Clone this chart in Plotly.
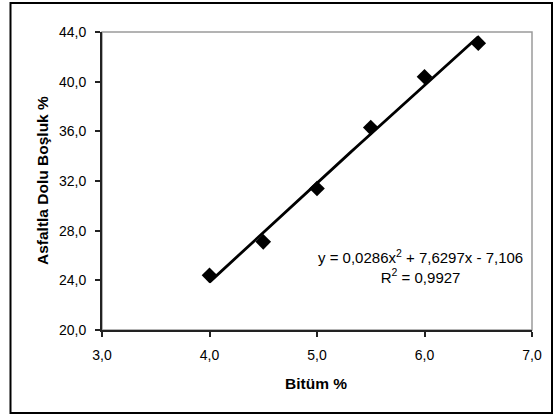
import numpy as np
import plotly.graph_objects as go

# Data
bitum = [4.0, 4.5, 5.0, 5.5, 6.0, 6.5]
dolu_bosluk = [24.4, 27.1, 31.4, 36.3, 40.4, 43.1]
x_ticks = [3.0, 4.0, 5.0, 6.0, 7.0]
y_ticks = [20.0, 24.0, 28.0, 32.0, 36.0, 40.0, 44.0]
equation_text = "y = 0,0286x<sup>2</sup> + 7,6297x - 7,106<br>R<sup>2</sup> = 0,9927"
x_title = "Bitüm %"
y_title = "Asfaltla Dolu Boşluk %"

# Polynomial (order 2) trendline fitted to the data, as in the spreadsheet
coef = np.polyfit(bitum, dolu_bosluk, 2)
trend_x = np.linspace(min(bitum), max(bitum), 60)
trend_y = np.polyval(coef, trend_x)

FONT = "Arial, Liberation Sans, sans-serif"
TICK_SIZE = 14
TITLE_SIZE = 15.5
EQ_SIZE = 15

fig = go.Figure()
fig.add_trace(go.Scatter(x=trend_x, y=trend_y, mode="lines",
                         line=dict(color="black", width=2.8),
                         hoverinfo="skip", showlegend=False))
fig.add_trace(go.Scatter(x=bitum, y=dolu_bosluk, mode="markers",
                         marker=dict(symbol="diamond", size=12, color="black"),
                         showlegend=False))

L, R, T, B = 102, 23, 32, 85
W, H = 555, 415
pw, ph = W - L - R, H - T - B

def px_x(p):
    return (p - L) / pw

def px_y(p):
    return (H - B - p) / ph

fig.update_layout(
    width=W, height=H,
    margin=dict(l=L, r=R, t=T, b=B, pad=0),
    paper_bgcolor="white", plot_bgcolor="white",
    separators=",.",
    font=dict(family=FONT, size=TICK_SIZE, color="black"),
    xaxis=dict(range=[3, 7], tickvals=x_ticks, tickformat=".1f",
               showgrid=False, zeroline=False,
               showline=True, linecolor="#222222", linewidth=2,
               ticks="outside", ticklen=5, tickwidth=2, tickcolor="#222222",
               ticklabelstandoff=6,
               tickfont=dict(size=TICK_SIZE, family=FONT)),
    yaxis=dict(range=[20, 44], tickvals=y_ticks, tickformat=".1f",
               showgrid=False, zeroline=False,
               showline=True, linecolor="#222222", linewidth=2,
               ticks="outside", ticklen=5, tickwidth=2, tickcolor="#222222",
               ticklabelstandoff=6,
               tickfont=dict(size=TICK_SIZE, family=FONT)),
    shapes=[
        dict(type="rect", xref="paper", yref="paper", x0=0, x1=1, y0=0, y1=1,
             line=dict(color="#9a9a9a", width=1.5), layer="below"),
        dict(type="rect", xref="paper", yref="paper",
             x0=px_x(10.5), x1=px_x(552), y0=px_y(413), y1=px_y(3),
             line=dict(color="black", width=2)),
    ],
    annotations=[
        dict(text=equation_text, xref="paper", yref="paper",
             x=px_x(420), y=px_y(266), xanchor="center", yanchor="middle",
             align="center", showarrow=False, font=dict(size=EQ_SIZE, family=FONT)),
        dict(text="<b>" + x_title + "</b>", xref="paper", yref="paper",
             x=px_x(316), y=px_y(383), xanchor="center", yanchor="middle",
             showarrow=False, font=dict(size=TITLE_SIZE, family=FONT)),
        dict(text="<b>" + y_title + "</b>", xref="paper", yref="paper",
             x=px_x(42), y=0.5, xanchor="center", yanchor="middle",
             textangle=-90, showarrow=False, font=dict(size=TITLE_SIZE, family=FONT)),
    ],
)

fig.write_html("out.html")
